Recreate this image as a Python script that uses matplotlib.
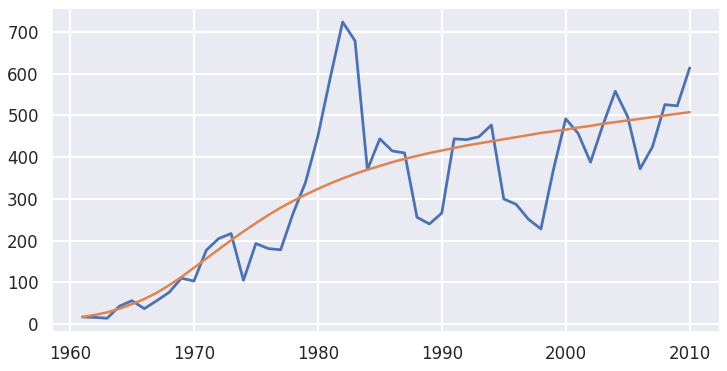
import matplotlib
matplotlib.use('Agg')
import matplotlib.pyplot as plt
import numpy as np
import seaborn as sns

# yearly values
years = list(range(1961, 2011))
observed = [17, 16, 14, 43, 56, 37, 56, 76, 110, 103,
            177, 205, 217, 105, 193, 181, 178, 265, 339, 450,
            590, 724, 679, 370, 444, 415, 410, 256, 240, 266,
            444, 442, 449, 477, 300, 287, 251, 228, 369, 492,
            457, 388, 477, 558, 497, 372, 425, 526, 523, 614]
# fitted curve, read per year
fitted = [17, 22, 28, 37, 48, 60, 75, 93, 113, 135,
          157, 179, 201, 222, 242, 261, 279, 295, 310, 324,
          337, 349, 360, 370, 379, 388, 396, 403, 410, 416,
          422, 428, 433, 438, 443, 448, 453, 458, 462, 466,
          471, 475, 480, 484, 488, 492, 496, 500, 504, 508]

sns.set_theme(style='darkgrid')
plt.rcParams['grid.linewidth'] = 1.5

fig, ax = plt.subplots(figsize=(7.27, 3.71), dpi=100)
fig.subplots_adjust(left=0.0715, right=0.9904, top=0.9784, bottom=0.1051)

ax.plot(years, observed, lw=2)
ax.plot(years, fitted, lw=1.8)

ax.set_xticks([1960, 1970, 1980, 1990, 2000, 2010])
ax.set_yticks([0, 100, 200, 300, 400, 500, 600, 700])
ax.set_ylim(-19, 757.5)
ax.tick_params(labelsize=12)

fig.savefig('out.png')
